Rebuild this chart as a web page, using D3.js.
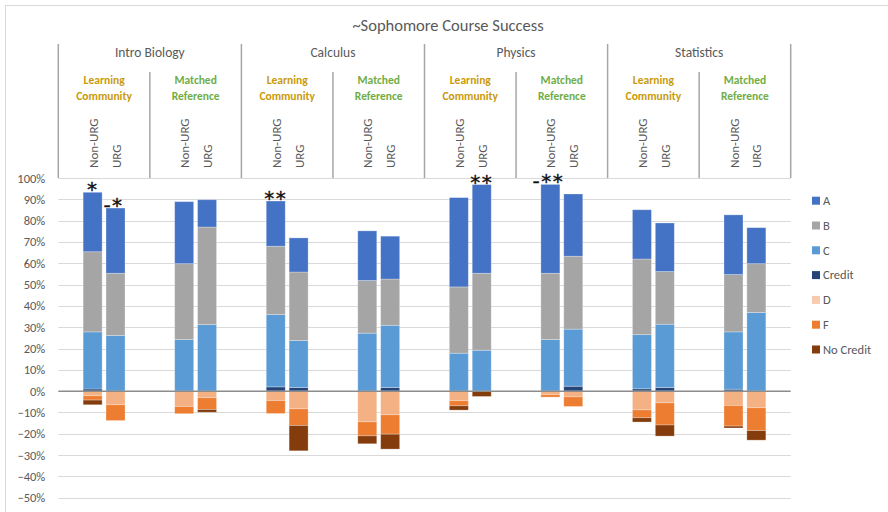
<!DOCTYPE html>
<html>
<head>
<meta charset="utf-8">
<script src="https://cdn.jsdelivr.net/npm/d3@7"></script>
<style>
  html, body { margin: 0; padding: 0; background: #fff; }
  svg { display: block; font-family: Carlito, Calibri, Lato, "Open Sans", sans-serif; }
</style>
</head>
<body>
<svg id="chart" width="888" height="512"></svg>
<script>
// Course grade distributions (percent of students), one value per bar:
// Intro Biology, Calculus, Physics, Statistics × (Learning Community, Matched Reference) × (Non-URG, URG)
const courses = ["Intro Biology", "Calculus", "Physics", "Statistics"];
const cohorts = ["Learning Community", "Matched Reference"];
const groups = ["Non-URG", "URG"];

const gradeA      = [27.9, 30.6, 29.1, 12.8, 21.2, 16.0, 23.3, 20.1, 41.9, 41.6, 41.7, 29.2, 23.1, 22.8, 28.0, 16.9];
const gradeB      = [37.6, 29.2, 35.6, 45.8, 32.1, 32.2, 24.7, 21.7, 31.1, 36.1, 31.1, 34.2, 35.5, 24.7, 26.9, 22.9];
const gradeC      = [26.8, 26.1, 24.2, 31.2, 33.9, 22.0, 27.2, 29.2, 17.8, 19.2, 24.2, 26.8, 25.4, 29.7, 26.9, 36.9];
const gradeCredit = [1.0, 0, 0, 0, 2.0, 1.7, 0, 1.7, 0, 0, 0, 2.3, 1.1, 1.7, 0.9, 0];
const gradeD      = [2.2, 6.4, 7.2, 3.1, 4.4, 8.3, 14.4, 11.1, 4.5, 0, 1.7, 2.7, 8.8, 5.5, 6.7, 7.8];
const gradeF      = [2.0, 7.4, 3.4, 5.5, 6.1, 7.8, 6.6, 9.1, 2.4, 0, 1.1, 4.5, 3.7, 10.4, 9.7, 10.7];
const gradeNoCredit = [2.2, 0, 0, 1.3, 0, 11.9, 3.7, 7.0, 2.0, 2.5, 0, 0, 2.0, 5.2, 0.9, 4.5];

// Significance markers drawn above selected bars (index into the bar list)
const markerBars = [0, 1, 4, 9, 10];
const markerText = ["*", "-*", "**", "**", "-**"];

const yTicks = [-0.5, -0.4, -0.3, -0.2, -0.1, 0, 0.1, 0.2, 0.3, 0.4, 0.5, 0.6, 0.7, 0.8, 0.9, 1.0];

const seriesKeys = ["Credit", "C", "B", "A", "D", "F", "No Credit"];
const legendKeys = ["A", "B", "C", "Credit", "D", "F", "No Credit"];
const colors = {
  "A": "#4472C4", "B": "#A5A5A5", "C": "#5B9BD5", "Credit": "#264478",
  "D": "#F4B183", "F": "#ED7D31", "No Credit": "#843C0C"
};
const legendColors = Object.assign({}, colors, { "D": "#F8CBAD" });

// Build one row per bar; failing grades are stored as negative values
const rows = [];
let idx = 0;
courses.forEach(course => cohorts.forEach(cohort => groups.forEach(group => {
  rows.push({
    course, cohort, group, i: idx,
    "A": gradeA[idx] / 100, "B": gradeB[idx] / 100, "C": gradeC[idx] / 100,
    "Credit": gradeCredit[idx] / 100,
    "D": -gradeD[idx] / 100, "F": -gradeF[idx] / 100, "No Credit": -gradeNoCredit[idx] / 100
  });
  idx++;
})));

const svg = d3.select("#chart");
const plotLeft = 58.3, plotRight = 790.7, plotTop = 178, plotBottom = 497.7;

// Outer chart frame
svg.append("rect").attr("x", 5.5).attr("y", 5.5).attr("width", 900).attr("height", 520)
  .attr("fill", "none").attr("stroke", "#D9D9D9").attr("stroke-width", 1);

const y = d3.scaleLinear().domain([-0.5, 1.0]).range([plotBottom, plotTop]);

// Nested band scales: course → cohort → slot (with empty slots on either side)
const xCourse = d3.scaleBand().domain(courses).range([plotLeft, plotRight]);
const xCohort = d3.scaleBand().domain(cohorts).range([0, xCourse.bandwidth()]);
const slots = ["pad-l", "Non-URG", "URG", "pad-r"];
const xSlot = d3.scaleBand().domain(slots).range([0, xCohort.bandwidth()]).paddingInner(0.17).paddingOuter(0.085);

const barX = d => xCourse(d.course) + xCohort(d.cohort) + xSlot(d.group);
const barCx = d => barX(d) + xSlot.bandwidth() / 2;

// Gridlines
svg.append("g").selectAll("line").data(yTicks.filter(t => t !== 0)).join("line")
  .attr("x1", plotLeft).attr("x2", plotRight)
  .attr("y1", d => Math.round(y(d)) + 0.5).attr("y2", d => Math.round(y(d)) + 0.5)
  .attr("stroke", "#D9D9D9").attr("stroke-width", 1);

// Y axis labels
const yAxis = d3.axisLeft(y).tickValues(yTicks).tickFormat(d3.format(".0%")).tickSize(0).tickPadding(13);
const gy = svg.append("g").attr("transform", `translate(${plotLeft},0)`).call(yAxis);
gy.select(".domain").remove();
gy.selectAll("text").attr("fill", "#595959").attr("font-size", 12.5)
  .attr("font-family", "Carlito, Calibri, Lato, sans-serif");

// Stacked bars (diverging around zero)
const stack = d3.stack().keys(seriesKeys).offset(d3.stackOffsetDiverging);
const stacked = stack(rows);

svg.append("g").selectAll("g").data(stacked).join("g")
  .attr("fill", s => colors[s.key])
  .selectAll("rect").data(s => s.filter(p => p[1] - p[0] !== 0)).join("rect")
  .attr("x", p => barX(p.data))
  .attr("width", xSlot.bandwidth())
  .attr("y", p => y(Math.max(p[0], p[1])))
  .attr("height", p => Math.abs(y(p[0]) - y(p[1])))
  .attr("stroke", "#ffffff").attr("stroke-opacity", 0.35).attr("stroke-width", 0.8);

// Zero line
svg.append("line").attr("x1", plotLeft).attr("x2", plotRight)
  .attr("y1", y(0)).attr("y2", y(0))
  .attr("stroke", "#8C8C8C").attr("stroke-width", 1.5);

// Significance markers
const positiveTotal = d => d.A + d.B + d.C + d.Credit;
svg.append("g").selectAll("text").data(markerBars).join("text")
  .attr("x", (b, k) => barCx(rows[b]) + (markerText[k].startsWith("-") ? -2 : 0))
  .attr("y", b => y(positiveTotal(rows[b])) + 4)
  .attr("text-anchor", "middle")
  .attr("font-size", 20).attr("font-family", "DejaVu Sans, sans-serif")
  .attr("letter-spacing", 1.5)
  .attr("fill", "#111")
  .attr("stroke", "#111").attr("stroke-width", 0.4)
  .text((b, k) => markerText[k]);

// Multi-level category header
const header = svg.append("g");
const lineColor = "#A6A6A6";
const courseEdges = courses.map(c => xCourse(c)).concat([plotRight]);
header.selectAll("line.course").data(courseEdges).join("line").attr("class", "course")
  .attr("x1", d => d).attr("x2", d => d).attr("y1", 44).attr("y2", plotTop)
  .attr("stroke", lineColor).attr("stroke-width", 1.5);
header.selectAll("line.cohort").data(courses).join("line").attr("class", "cohort")
  .attr("x1", c => xCourse(c) + xCohort(cohorts[1])).attr("x2", c => xCourse(c) + xCohort(cohorts[1]))
  .attr("y1", 72).attr("y2", plotTop)
  .attr("stroke", lineColor).attr("stroke-width", 1.5);

header.selectAll("text.course").data(courses).join("text").attr("class", "course")
  .attr("x", c => xCourse(c) + xCourse.bandwidth() / 2).attr("y", 57)
  .attr("text-anchor", "middle").attr("font-size", 13.5).attr("fill", "#595959")
  .text(c => c);

const cohortColors = { "Learning Community": "#C99A0C", "Matched Reference": "#70AD47" };
const cohortCells = [];
courses.forEach(c => cohorts.forEach(h => cohortCells.push({ course: c, cohort: h })));
const cohortText = header.selectAll("text.cohort").data(cohortCells).join("text").attr("class", "cohort")
  .attr("x", d => xCourse(d.course) + xCohort(d.cohort) + xCohort.bandwidth() / 2)
  .attr("y", 84)
  .attr("text-anchor", "middle").attr("font-size", 11.5).attr("font-weight", "bold")
  .attr("fill", d => cohortColors[d.cohort]);
cohortText.each(function(d) {
  const words = d.cohort.split(" ");
  d3.select(this).selectAll("tspan").data(words).join("tspan")
    .attr("x", xCourse(d.course) + xCohort(d.cohort) + xCohort.bandwidth() / 2)
    .attr("dy", (w, i) => i === 0 ? 0 : 15.5)
    .text(w => w);
});

header.selectAll("text.group").data(rows).join("text").attr("class", "group")
  .attr("transform", d => `translate(${barCx(d) + 0.5},168) rotate(-90)`)
  .attr("dy", "0.35em")
  .attr("text-anchor", "start")
  .attr("font-size", 13).attr("fill", "#595959")
  .text(d => d.group);

// Title
svg.append("text").attr("x", 448).attr("y", 31).attr("text-anchor", "middle")
  .attr("font-size", 16.5).attr("fill", "#595959")
  .text("~Sophomore Course Success");

// Legend
const legend = svg.append("g").selectAll("g").data(legendKeys).join("g")
  .attr("transform", (k, i) => `translate(812,${200.7 + i * 24.8})`);
legend.append("rect").attr("x", 0).attr("y", -4).attr("width", 8).attr("height", 8)
  .attr("fill", k => legendColors[k]);
legend.append("text").attr("x", 11).attr("y", 0).attr("dy", "0.35em")
  .attr("font-size", 12.5).attr("fill", "#595959").text(k => k);
</script>
</body>
</html>
